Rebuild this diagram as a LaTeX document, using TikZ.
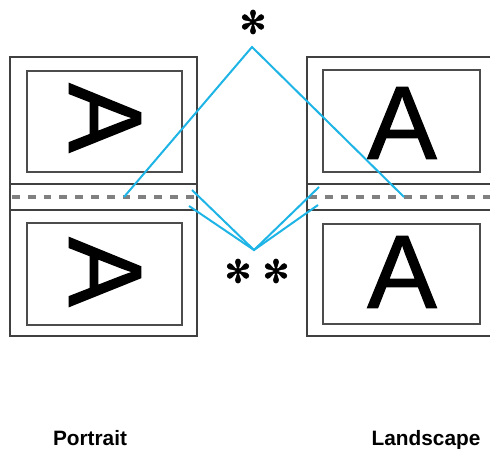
\documentclass[tikz,border=0pt]{standalone}
\usepackage{fontspec}
\setmainfont{Liberation Sans}
\newfontfamily\symfont[FakeBold=1.5]{DejaVu Sans}
\newfontfamily\letterfont[FakeBold=1.2]{Liberation Sans}
\usetikzlibrary{positioning}
\definecolor{sky}{RGB}{30,180,230}
\tikzset{
  sheet/.style={draw=black!75, line width=0.9pt},
  page/.style={draw=black!70, line width=0.75pt},
  fold/.style={draw=black!50, line width=2pt, dash pattern=on 3.9pt off 4pt},
  glyph/.style={font=\letterfont\fontsize{52}{52}\selectfont, inner sep=0pt},
  ast/.style={font=\symfont\fontsize{16}{16}\selectfont, inner sep=0pt},
  guide/.style={draw=sky, line width=1pt},
  caption/.style={font=\bfseries\fontsize{10.4}{12}\selectfont, inner sep=0pt, anchor=base},
}

\begin{document}
\begin{tikzpicture}[x=0.5pt, y=-0.5pt]
\useasboundingbox (0,0) rectangle (490,448);
\clip (0,0) rectangle (490,448);
% sheets
\draw[sheet] (10,57) rectangle (197,336);
\draw[sheet] (10,184) -- (197,184) (10,210) -- (197,210);
\draw[sheet] (307,57) rectangle (500,336);
\draw[sheet] (307,184) -- (500,184) (307,210) -- (500,210);
% printed pages
\draw[page] (27,71) rectangle (182,172);
\draw[page] (27,223) rectangle (182,325);
\draw[page] (323,70) rectangle (480,172);
\draw[page] (323,224) rectangle (480,324);
% folds
\draw[fold] (12,197) -- (197,197);
\draw[fold] (309,197) -- (500,197);
% letters
\node[glyph, rotate=-90] (aTL) at (105,118) {A};
\node[glyph, rotate=-90] (aBL) at (105,272) {A};
\node[glyph] (aTR) at (402,123) {A};
\node[glyph] (aBR) at (402,272) {A};
% asterisks
\node[ast] (astT)  at (253,22)  {✻};
\node[ast] (astBL) at (238,271) {✻};
\node[ast] (astBR) at (276,271) {✻};
% guide lines
\coordinate (topV)  at (252,47);
\coordinate (botV)  at (254,250);
\coordinate (foldL) at (124,197);
\coordinate (foldR) at (404,197);
\coordinate (edgeLa) at (192,190);
\coordinate (edgeLb) at (189,206);
\coordinate (edgeRa) at (319,187);
\coordinate (edgeRb) at (318,205);
\draw[guide] (foldL) -- (topV) -- (foldR);
\draw[guide] (edgeLa) -- (botV) -- (edgeRa);
\draw[guide] (edgeLb) -- (botV) -- (edgeRb);
% captions
\node[caption] (portrait)  at (90,445)  {Portrait};
\node[caption] (landscape) at (426,445) {Landscape};
\end{tikzpicture}
\end{document}
